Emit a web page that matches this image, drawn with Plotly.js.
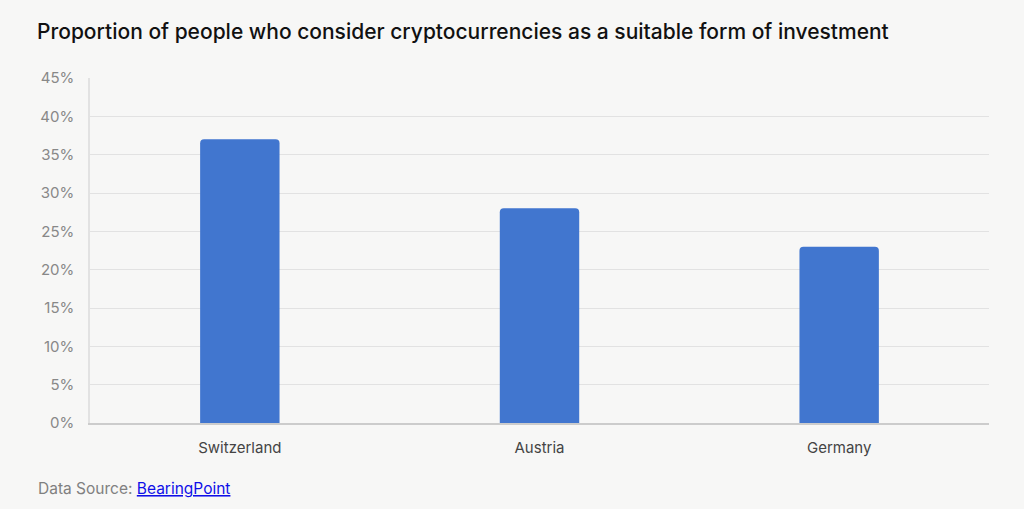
<!DOCTYPE html>
<html>
<head>
<meta charset="utf-8">
<script src="https://cdn.plot.ly/plotly-3.0.1.min.js"></script>
<style>
  html, body { margin: 0; padding: 0; background: #f7f7f6; }
  #chart { width: 1024px; height: 509px; }
</style>
</head>
<body>
<div id="chart"></div>
<script>
const countries = ["Switzerland", "Austria", "Germany"];
const shares = [37, 28, 23];
const yTicks = [0, 5, 10, 15, 20, 25, 30, 35, 40, 45];
const chartTitle = "Proportion of people who consider cryptocurrencies as a suitable form of investment";
const sourceName = "BearingPoint";

const trace = {
  type: "bar",
  x: countries,
  y: shares,
  width: 0.265,
  marker: { color: "#4176cf", line: { width: 0 } },
  hoverinfo: "x+y"
};

const layout = {
  width: 1024,
  height: 509,
  paper_bgcolor: "#f7f7f6",
  plot_bgcolor: "#f7f7f6",
  margin: { l: 90, r: 35, t: 78, b: 86 },
  barcornerradius: 4,
  font: { family: "Inter, 'Noto Sans', sans-serif" },
  title: {
    text: chartTitle,
    x: 37 / 1024, xanchor: "left", xref: "container",
    y: 1 - 31.5 / 509, yanchor: "middle", yref: "container",
    font: { family: "Inter, sans-serif", size: 21, color: "#111111", weight: 500 }
  },
  xaxis: {
    type: "category",
    range: [-0.5, 2.5],
    showgrid: false,
    showline: true,
    linecolor: "#cccccc",
    linewidth: 1.5,
    ticks: "",
    ticklabelstandoff: 10,
    tickfont: { family: "Inter, sans-serif", size: 15, color: "#444444" },
    fixedrange: true
  },
  yaxis: {
    range: [0, 45],
    tickvals: yTicks,
    ticktext: yTicks.map(v => v + "%"),
    showgrid: true,
    gridcolor: "#e2e2e2",
    gridwidth: 1,
    zeroline: false,
    showline: true,
    linecolor: "#e2e2e2",
    linewidth: 1.5,
    ticks: "",
    ticklabelstandoff: 11,
    tickfont: { family: "Inter, sans-serif", size: 15, color: "#888888" },
    fixedrange: true
  },
  annotations: [{
    xref: "paper", yref: "paper",
    x: -54 / 899, y: -65 / 345,
    xanchor: "left", yanchor: "middle",
    showarrow: false,
    align: "left",
    text: "Data Source: <a href=\"https://www.bearingpoint.com\" style=\"color:#0f0fe8\"><u>" + sourceName + "</u></a>",
    font: { family: "Inter, sans-serif", size: 15.5, color: "#808080" }
  }],
  showlegend: false
};

Plotly.newPlot("chart", [trace], layout, { displayModeBar: false, staticPlot: false });
</script>
</body>
</html>
